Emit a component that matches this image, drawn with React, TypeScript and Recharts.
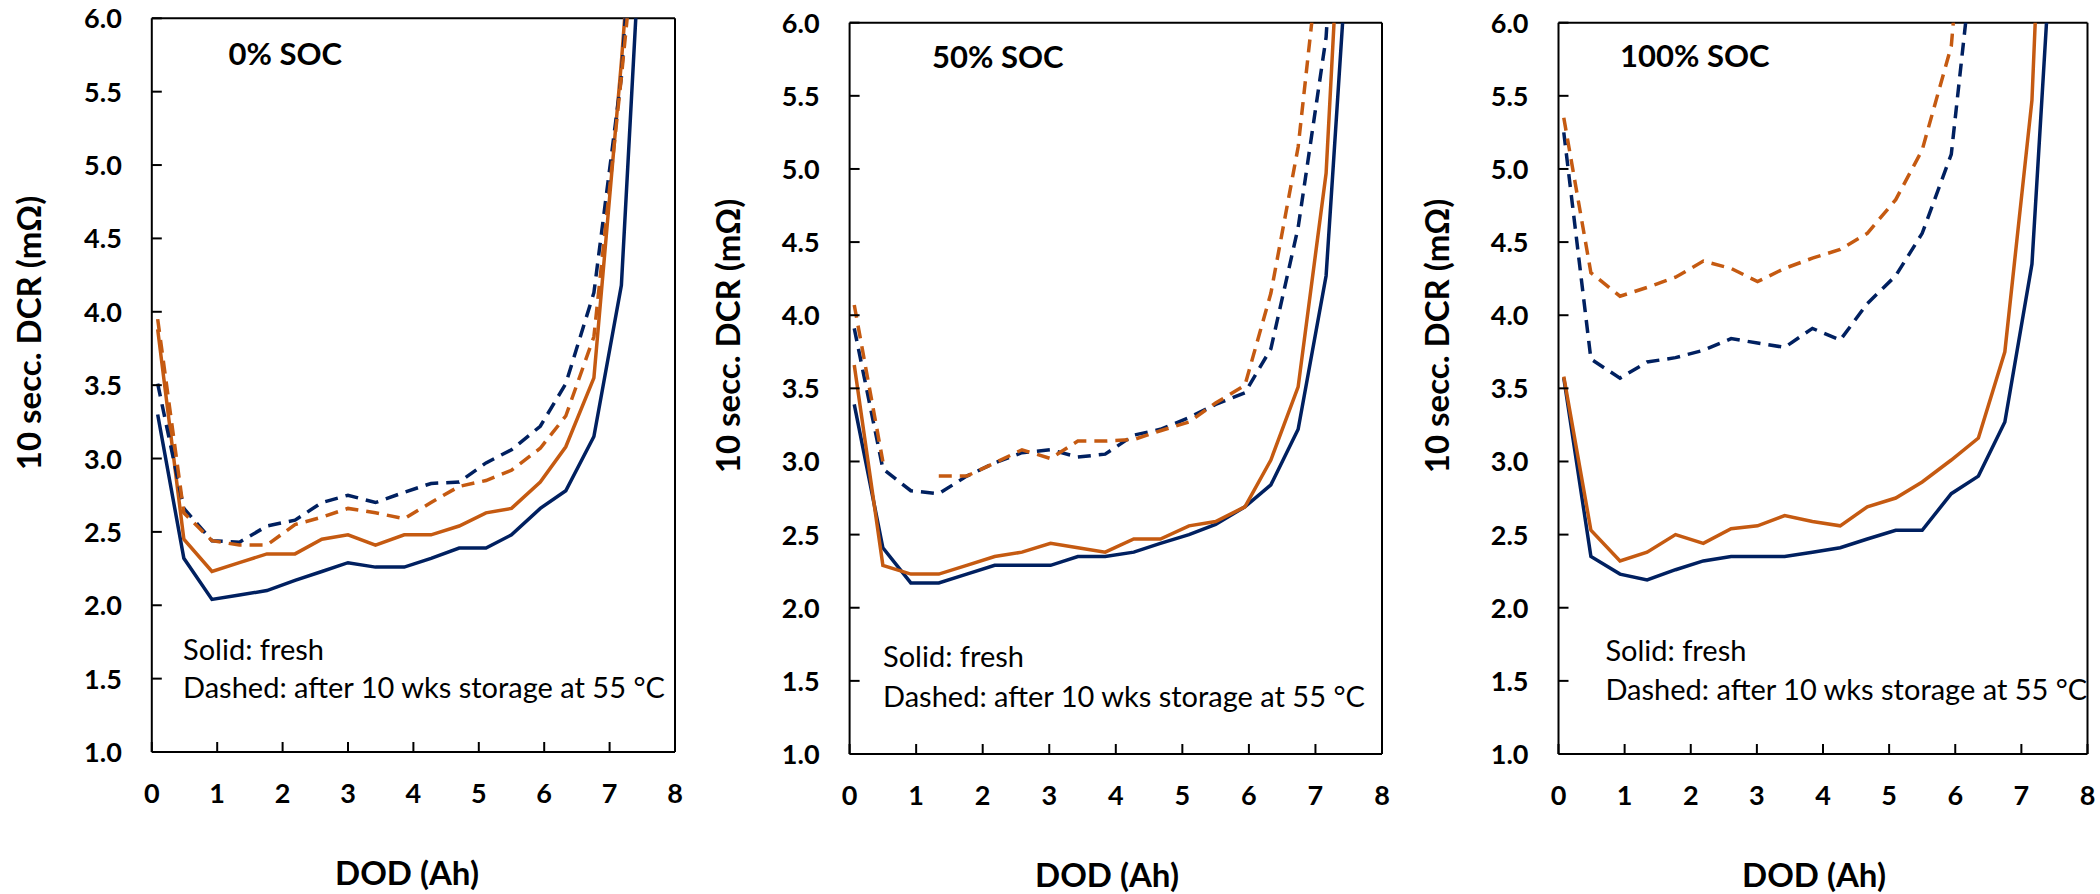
import React from 'react';
import { LineChart, Line, XAxis, YAxis, ReferenceLine } from 'recharts';

const FONT = "Lato, 'Open Sans', 'DejaVu Sans', sans-serif";
const NAVY = '#002060';
const ORANGE = '#C55A11';
const DASH = '13 8';
const LINE_W = 3.5;

const X_TICKS = [0, 1, 2, 3, 4, 5, 6, 7, 8];
const Y_TICKS = [1, 1.5, 2, 2.5, 3, 3.5, 4, 4.5, 5, 5.5, 6];

// 0% SOC
const DOD_0 = [0.09, 0.49, 0.92, 1.34, 1.76, 2.19, 2.6, 3.0, 3.42, 3.86, 4.27, 4.7, 5.11, 5.5, 5.94, 6.33, 6.76, 7.18, 7.6];
const FRESH_NAVY_0 = [3.3, 2.32, 2.04, 2.07, 2.1, 2.17, 2.23, 2.29, 2.26, 2.26, 2.32, 2.39, 2.39, 2.48, 2.66, 2.78, 3.15, 4.18, 7.65];
const FRESH_ORANGE_0 = [3.88, 2.45, 2.23, 2.29, 2.35, 2.35, 2.45, 2.48, 2.41, 2.48, 2.48, 2.54, 2.63, 2.66, 2.84, 3.08, 3.55, 5.7, 8.2];
const STORED_NAVY_0 = [3.51, 2.66, 2.44, 2.43, 2.54, 2.58, 2.7, 2.75, 2.7, 2.77, 2.83, 2.84, 2.97, 3.06, 3.22, 3.51, 4.13, 5.6, 8.4];
const STORED_ORANGE_0 = [3.95, 2.63, 2.44, 2.41, 2.41, 2.55, 2.6, 2.66, 2.63, 2.59, 2.7, 2.81, 2.85, 2.92, 3.07, 3.29, 3.83, 5.6, 7.5];

// 50% SOC
const DOD_50 = [0.07, 0.5, 0.92, 1.34, 1.76, 2.18, 2.59, 3.02, 3.43, 3.84, 4.27, 4.67, 5.1, 5.5, 5.94, 6.33, 6.74, 7.16, 7.58];
const FRESH_NAVY_50 = [3.39, 2.41, 2.17, 2.17, 2.23, 2.29, 2.29, 2.29, 2.35, 2.35, 2.38, 2.44, 2.5, 2.57, 2.69, 2.84, 3.22, 4.27, 7.2];
const FRESH_ORANGE_50 = [3.66, 2.29, 2.23, 2.23, 2.29, 2.35, 2.38, 2.44, 2.41, 2.38, 2.47, 2.47, 2.56, 2.59, 2.69, 3.01, 3.51, 4.97, 8.6];
const STORED_NAVY_50 = [3.91, 2.95, 2.8, 2.78, 2.9, 2.99, 3.06, 3.08, 3.03, 3.05, 3.18, 3.22, 3.3, 3.39, 3.47, 3.77, 4.6, 5.9, 9.0];
const STORED_ORANGE_50 = [4.07, 3.0, null, 2.9, 2.9, 2.99, 3.08, 3.02, 3.14, 3.14, 3.15, 3.21, 3.27, 3.4, 3.52, 4.15, 5.15, 6.9, 10.0];

// 100% SOC
const DOD_100 = [0.08, 0.49, 0.93, 1.34, 1.77, 2.19, 2.61, 3.01, 3.42, 3.84, 4.26, 4.67, 5.1, 5.5, 5.94, 6.35, 6.75, 7.16, 7.58];
const FRESH_NAVY_100 = [3.57, 2.35, 2.23, 2.19, 2.26, 2.32, 2.35, 2.35, 2.35, 2.38, 2.41, 2.47, 2.53, 2.53, 2.78, 2.9, 3.27, 4.35, 7.5];
const FRESH_ORANGE_100 = [3.58, 2.53, 2.32, 2.38, 2.5, 2.44, 2.54, 2.56, 2.63, 2.59, 2.56, 2.69, 2.75, 2.86, 3.01, 3.16, 3.75, 5.47, 10.0];
const STORED_NAVY_100 = [5.25, 3.7, 3.57, 3.68, 3.71, 3.76, 3.84, 3.81, 3.78, 3.91, 3.83, 4.08, 4.27, 4.56, 5.1, 6.8];
const STORED_ORANGE_100 = [5.35, 4.29, 4.13, 4.19, 4.26, 4.37, 4.32, 4.23, 4.32, 4.39, 4.45, 4.56, 4.79, 5.13, 5.84, 8.0];

const toPoints = (xs: number[], ys: (number | null)[]) => ys.map((v, i) => ({ dod: xs[i], dcr: v }));

const panels = [
  {
    title: '0% SOC',
    offset: 0,
    plot: { left: 151.8, right: 675, top: 18.3, bottom: 752 },
    titlePos: [228.6, 65],
    notePos: [183, 660, 698],
    yLabel: [41, 333],
    xLabel: [407, 885],
    fresh: [toPoints(DOD_0, FRESH_NAVY_0), toPoints(DOD_0, FRESH_ORANGE_0)],
    stored: [toPoints(DOD_0, STORED_NAVY_0), toPoints(DOD_0, STORED_ORANGE_0)],
  },
  {
    title: '50% SOC',
    offset: 700,
    plot: { left: 149.6, right: 682, top: 22.7, bottom: 754 },
    titlePos: [232, 68],
    notePos: [183, 667, 707],
    yLabel: [40, 336],
    xLabel: [407, 887],
    fresh: [toPoints(DOD_50, FRESH_NAVY_50), toPoints(DOD_50, FRESH_ORANGE_50)],
    stored: [toPoints(DOD_50, STORED_NAVY_50), toPoints(DOD_50, STORED_ORANGE_50)],
  },
  {
    title: '100% SOC',
    offset: 1400,
    plot: { left: 158.5, right: 687.5, top: 22.7, bottom: 754 },
    titlePos: [220, 67],
    notePos: [205.4, 661, 700],
    yLabel: [49, 336],
    xLabel: [414, 887],
    fresh: [toPoints(DOD_100, FRESH_NAVY_100), toPoints(DOD_100, FRESH_ORANGE_100)],
    stored: [toPoints(DOD_100, STORED_NAVY_100), toPoints(DOD_100, STORED_ORANGE_100)],
  },
];

const W = 700;
const H = 894;
const Y_AXIS_W = 60;
const X_AXIS_H = 60;

const YTick = (props: any) => {
  const { x, y, payload } = props;
  return (
    <g>
      <line x1={x} x2={x + 10} y1={y} y2={y} stroke="#000" strokeWidth={2} />
      <text x={x - 30} y={y + 10} textAnchor="end" fontFamily={FONT} fontWeight={700} fontSize={27} fill="#000">
        {Number(payload.value).toFixed(1)}
      </text>
    </g>
  );
};

const XTick = (props: any) => {
  const { x, y, payload } = props;
  return (
    <g>
      <line x1={x} x2={x} y1={y} y2={y - 10} stroke="#000" strokeWidth={2} />
      <text x={x} y={y + 51} textAnchor="middle" fontFamily={FONT} fontWeight={700} fontSize={27} fill="#000">
        {payload.value}
      </text>
    </g>
  );
};

const Panel = ({ p }: { p: (typeof panels)[number] }) => {
  const { plot } = p;
  const margin = {
    top: plot.top,
    bottom: H - plot.bottom - X_AXIS_H,
    left: plot.left - Y_AXIS_W,
    right: W - plot.right,
  };
  return (
    <div style={{ position: 'absolute', left: p.offset, top: 0, width: W, height: H }}>
      <LineChart width={W} height={H} margin={margin}>
        <XAxis
          dataKey="dod"
          type="number"
          domain={[0, 8]}
          ticks={X_TICKS}
          interval={0}
          height={X_AXIS_H}
          tickSize={0}
          tickMargin={0}
          tickLine={false}
          axisLine={{ stroke: '#000', strokeWidth: 2 }}
          tick={<XTick />}
        />
        <YAxis
          type="number"
          domain={[1, 6]}
          ticks={Y_TICKS}
          interval={0}
          allowDataOverflow
          width={Y_AXIS_W}
          tickSize={0}
          tickMargin={0}
          tickLine={false}
          axisLine={{ stroke: '#000', strokeWidth: 2 }}
          tick={<YTick />}
        />
        <ReferenceLine y={6} stroke="#000" strokeWidth={2} />
        <ReferenceLine x={8} stroke="#000" strokeWidth={2} />
        <Line data={p.fresh[0]} dataKey="dcr" type="linear" stroke={NAVY} strokeWidth={LINE_W} dot={false} isAnimationActive={false} />
        <Line data={p.fresh[1]} dataKey="dcr" type="linear" stroke={ORANGE} strokeWidth={LINE_W} dot={false} isAnimationActive={false} />
        <Line data={p.stored[0]} dataKey="dcr" type="linear" stroke={NAVY} strokeWidth={LINE_W} strokeDasharray={DASH} dot={false} isAnimationActive={false} />
        <Line data={p.stored[1]} dataKey="dcr" type="linear" stroke={ORANGE} strokeWidth={LINE_W} strokeDasharray={DASH} dot={false} isAnimationActive={false} />
        <text x={p.titlePos[0]} y={p.titlePos[1]} fontFamily={FONT} fontWeight={700} fontSize={31} fill="#000">
          {p.title}
        </text>
        <text x={p.notePos[0]} y={p.notePos[1]} fontFamily={FONT} fontSize={29} fill="#000">
          Solid: fresh
        </text>
        <text x={p.notePos[0]} y={p.notePos[2]} fontFamily={FONT} fontSize={29} fill="#000">
          Dashed: after 10 wks storage at 55 °C
        </text>
        <text
          x={p.yLabel[0]}
          y={p.yLabel[1]}
          transform={`rotate(-90, ${p.yLabel[0]}, ${p.yLabel[1]})`}
          textAnchor="middle"
          fontFamily={FONT}
          fontWeight={700}
          fontSize={33}
          fill="#000"
        >
          10 secc. DCR (mΩ)
        </text>
        <text x={p.xLabel[0]} y={p.xLabel[1]} textAnchor="middle" fontFamily={FONT} fontWeight={700} fontSize={33} fill="#000">
          DOD (Ah)
        </text>
      </LineChart>
    </div>
  );
};

export default function App() {
  return (
    <div style={{ position: 'absolute', left: 0, top: 0, width: 2100, height: H, background: '#fff', overflow: 'hidden' }}>
      {panels.map((p) => (
        <Panel key={p.title} p={p} />
      ))}
    </div>
  );
}
